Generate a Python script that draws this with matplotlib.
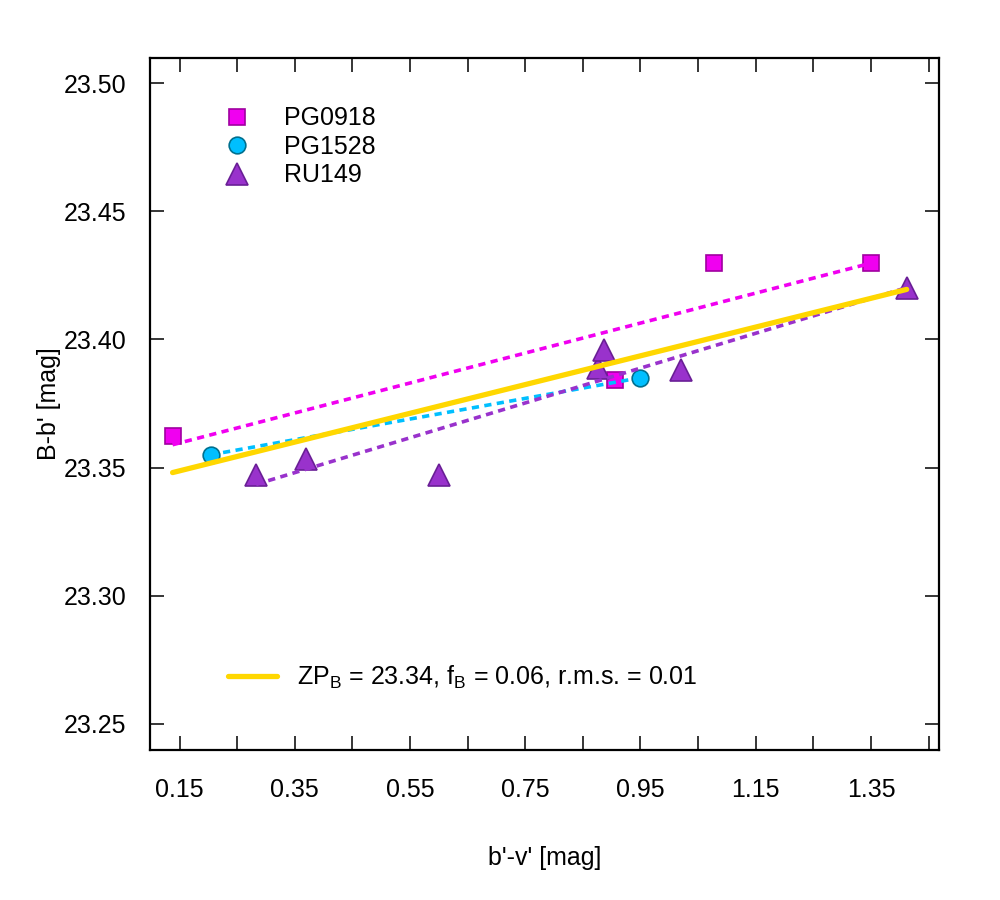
import numpy as np
import matplotlib
matplotlib.use("Agg")
import matplotlib.pyplot as plt

plt.rcParams['font.family'] = ['Liberation Sans', 'DejaVu Sans']
plt.rcParams['mathtext.fontset'] = 'custom'
plt.rcParams['mathtext.rm'] = 'Liberation Sans'
plt.rcParams['mathtext.it'] = 'Liberation Sans:italic'

# ----- datos -----
pg0918_x = [0.138, 0.905, 1.077, 1.350]
pg0918_y = [23.3625, 23.384, 23.430, 23.4297]

pg1528_x = [0.204, 0.949]
pg1528_y = [23.355, 23.385]

ru149_x = [0.283, 0.370, 0.600, 0.877, 0.886, 1.020, 1.412]
ru149_y = [23.347, 23.3535, 23.347, 23.3887, 23.3957, 23.388, 23.420]

# ajuste global
zp_b = 23.3403
f_b = 0.0561
etiqueta_ajuste = r"ZP$_\mathrm{B}$ = 23.34, f$_\mathrm{B}$ = 0.06, r.m.s. = 0.01"

x_ticks = [0.15, 0.35, 0.55, 0.75, 0.95, 1.15, 1.35]
x_minor = [0.25, 0.45, 0.65, 0.85, 1.05, 1.25, 1.45]
y_ticks = [23.25, 23.30, 23.35, 23.40, 23.45, 23.50]

series = [
    ("PG0918", pg0918_x, pg0918_y, 's', '#f000f0', '#a000a0', 11),
    ("PG1528", pg1528_x, pg1528_y, 'o', '#00bfff', '#00708f', 12),
    ("RU149", ru149_x, ru149_y, '^', '#9932cc', '#6a1f96', 15.5),
]

fig = plt.figure(figsize=(10, 9), dpi=100)
ax = fig.add_axes([0.15, 1 - 750 / 900, 0.7893, 692 / 900])

handles = []
for nombre, xs, ys, marca, color, borde, tam in series:
    h, = ax.plot(xs, ys, linestyle='none', marker=marca, markersize=tam,
                 markerfacecolor=color, markeredgecolor=borde,
                 markeredgewidth=1.2, label=nombre, zorder=2)
    handles.append(h)
    # recta ajustada de cada serie
    m, b = np.polyfit(xs, ys, 1)
    xr = np.array([min(xs), max(xs)])
    ax.plot(xr, m * xr + b, color=color, linewidth=2.6,
            linestyle=(0, (2.0, 1.5)), zorder=3)

todos_x = pg0918_x + pg1528_x + ru149_x
xr = np.array([min(todos_x), max(todos_x)])
linea, = ax.plot(xr, zp_b + f_b * xr, color='#ffd700', linewidth=3.8,
                 solid_capstyle='round', zorder=4, label=etiqueta_ajuste)

ax.set_xlim(0.0988, 1.4686)
ax.set_ylim(23.2398, 23.5098)
ax.set_xticks(x_ticks)
ax.set_xticklabels([f"{t:.2f}" for t in x_ticks])
ax.set_xticks(x_minor, minor=True)
ax.set_yticks(y_ticks)
ax.set_yticklabels([f"{t:.2f}" for t in y_ticks])

ax.tick_params(which='both', direction='in', top=True, right=True,
               length=10, width=1.1, labelsize=18)
ax.tick_params(axis='x', which='both', pad=20)
ax.tick_params(axis='y', pad=17)
for s in ax.spines.values():
    s.set_linewidth(1.6)

ax.set_xlabel("b'-v' [mag]", fontsize=18, labelpad=32)
ax.set_ylabel("B-b' [mag]", fontsize=18, labelpad=2)

leg1 = ax.legend(handles=handles, loc='upper left', bbox_to_anchor=(0.095, 0.93),
                 frameon=False, fontsize=18, borderpad=0, handlelength=1.0,
                 handletextpad=1.35, labelspacing=0.18, borderaxespad=0)
ax.add_artist(leg1)
ax.legend(handles=[linea], loc='center left', bbox_to_anchor=(0.0989, 0.1045),
          frameon=False, fontsize=18, borderpad=0, handlelength=1.95,
          handletextpad=0.8, borderaxespad=0)

fig.savefig("out.png", dpi=100)
